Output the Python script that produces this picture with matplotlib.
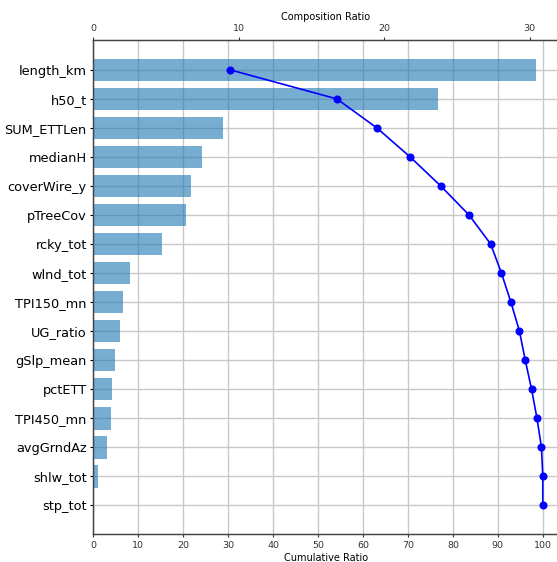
import numpy as np
import matplotlib.pyplot as plt

features = ['length_km', 'h50_t', 'SUM_ETTLen', 'medianH', 'coverWire_y', 'pTreeCov',
            'rcky_tot', 'wlnd_tot', 'TPI150_mn', 'UG_ratio', 'gSlp_mean', 'pctETT',
            'TPI450_mn', 'avgGrndAz', 'shlw_tot', 'stp_tot']
composition = [30.46, 23.67, 8.95, 7.5, 6.75, 6.36, 4.69, 2.49, 2.05, 1.86,
               1.49, 1.32, 1.2, 0.95, 0.32, 0.02]
cumulative = [30.5, 54.2, 63.1, 70.5, 77.3, 83.6, 88.4, 90.8, 92.9, 94.8,
              96.1, 97.5, 98.7, 99.7, 100.0, 100.0]

fig = plt.figure(figsize=(5.57, 5.62), dpi=100)
ax = fig.add_axes([0.1675, 0.0493, 0.835, 0.8795])   # bottom axis + grid
axt = ax.twiny()                                      # bars, top axis
axl = ax.twiny()                                      # cumulative line
y = np.arange(len(features))

# grid / bottom scale
ax.set_xlim(0, 103.47)
ax.set_xticks(np.arange(0, 101, 10))
ax.set_xlabel('Cumulative Ratio', fontsize=7, labelpad=2)
ax.tick_params(axis='x', labelsize=6.8, length=2.5, pad=2.2, colors='#333333')
ax.grid(True, color='#c8c8c8', lw=1.0)
ax.set_yticks(y)
ax.set_yticklabels(features, fontsize=9.3)
ax.set_ylim(16.0, -1.03)
ax.tick_params(axis='y', length=2.5, pad=2.2)

# bars on the top axis
axt.barh(y, composition, height=0.78, color='#1f77b4', alpha=0.6)
axt.set_xlim(0, 31.98)
axt.set_xticks([0, 10, 20, 30])
axt.set_xlabel('Composition Ratio', fontsize=7, labelpad=3)
axt.tick_params(axis='x', labelsize=6.8, length=2.5, pad=2.2, colors='#333333')
axt.set_ylim(16.0, -1.03)

# line uses the bottom scale
axl.plot(cumulative, y, 'o-', color='blue', lw=1.2, markersize=4.8)
axl.set_xlim(ax.get_xlim())
axl.set_ylim(16.0, -1.03)
axl.set_axis_off()

for a in (ax, axt):
    for s in a.spines.values():
        s.set_color('#444444')
        s.set_linewidth(0.9)

fig.savefig('out.png', dpi=100)
